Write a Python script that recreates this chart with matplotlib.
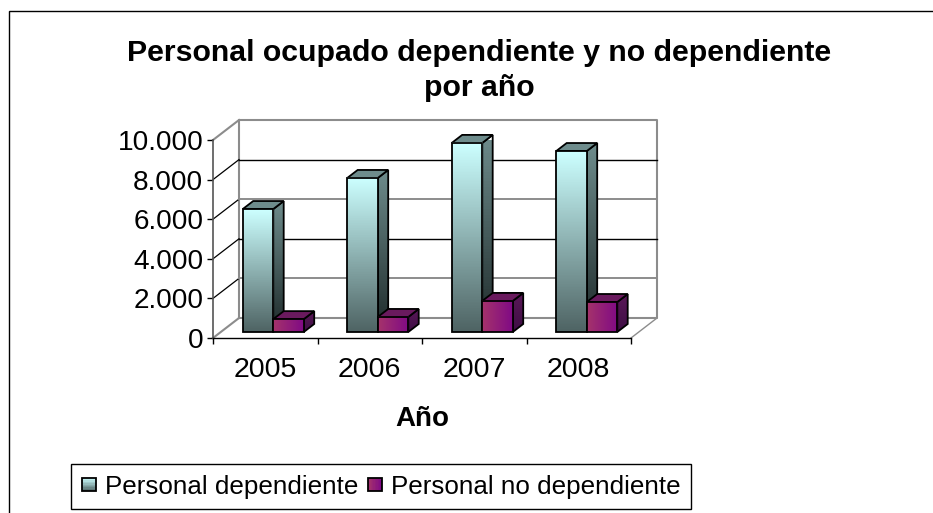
import matplotlib
matplotlib.use("Agg")
import matplotlib.pyplot as plt
from matplotlib.colors import LinearSegmentedColormap
from matplotlib.legend_handler import HandlerBase
from matplotlib.patches import Patch, Polygon, Rectangle
import numpy as np

years = ["2005", "2006", "2007", "2008"]
dependiente = [6210, 7780, 9550, 9140]
no_dependiente = [650, 760, 1570, 1515]
series_names = ["Personal dependiente", "Personal no dependiente"]
y_ticks = [0, 2000, 4000, 6000, 8000, 10000]
y_tick_labels = ["0", "2.000", "4.000", "6.000", "8.000", "10.000"]

W, H = 933, 513
LEFT, RIGHT, BOTTOM, TOP = 213, 631, 338, 140
DX = 26 / ((RIGHT - LEFT) / 4)
DY = 20 / ((BOTTOM - TOP) / 10000)

plt.rcParams["font.family"] = ["Liberation Sans", "DejaVu Sans"]

dep_cmap = LinearSegmentedColormap.from_list("dep", ["#CCFFFF", "#4F6464"])
dep_side = LinearSegmentedColormap.from_list("dep_side", ["#6E8C8C", "#1E2A2A"])
nodep_cmap = LinearSegmentedColormap.from_list("nodep", ["#A5336B", "#800A85"])
nodep_side = LinearSegmentedColormap.from_list("nodep_side", ["#5A1858", "#3E0E44"])
GRID_GRAY = "#8C8C8C"


def gradient(ax, x0, x1, y0, y1, cmap, horizontal=False, zorder=3):
    vals = np.linspace(0, 1, 64)
    vals = vals.reshape(1, -1) if horizontal else vals.reshape(-1, 1)
    ax.imshow(vals, extent=(x0, x1, y0, y1), origin="upper", aspect="auto",
              cmap=cmap, zorder=zorder, clip_on=False)


def bar3d(ax, x, value, width, cmap, side_cmap, top_color, horizontal, zorder):
    # front face sits a bit behind the axis plane, depth is about 0.4 of the wall
    x0 = x + 0.3 * DX
    y0 = 0.3 * DY
    ddx, ddy = 0.4 * DX, 0.4 * DY
    x1, y1 = x0 + width, y0 + value

    side = Polygon([(x1, y0), (x1 + ddx, y0 + ddy), (x1 + ddx, y1 + ddy), (x1, y1)],
                   closed=True, fc="none", ec="none", zorder=zorder)
    ax.add_patch(side)
    vals = np.linspace(0, 1, 64).reshape(-1, 1)
    im = ax.imshow(vals, extent=(x1, x1 + ddx, y0, y1 + ddy), origin="upper", aspect="auto",
                   cmap=side_cmap, zorder=zorder)
    im.set_clip_path(side)
    ax.add_patch(Polygon([(x1, y0), (x1 + ddx, y0 + ddy), (x1 + ddx, y1 + ddy), (x1, y1)],
                         closed=True, fc="none", ec="black", lw=1.3, zorder=zorder + 0.1,
                         clip_on=False))
    ax.add_patch(Polygon([(x0, y1), (x0 + ddx, y1 + ddy), (x1 + ddx, y1 + ddy), (x1, y1)],
                         closed=True, fc=top_color, ec="black", lw=1.3, zorder=zorder + 0.1,
                         clip_on=False))
    gradient(ax, x0, x1, y0, y1, cmap, horizontal, zorder + 0.2)
    ax.add_patch(Rectangle((x0, y0), width, value, fc="none", ec="black", lw=1.3,
                           zorder=zorder + 0.3, clip_on=False))


class GradientHandler(HandlerBase):
    def __init__(self, cmap, horizontal):
        super().__init__()
        self.cmap = cmap
        self.horizontal = horizontal

    def create_artists(self, legend, orig_handle, xdescent, ydescent, width, height, fontsize, trans):
        size = 10
        x0 = (width - size) / 2 - xdescent - 1.5
        y0 = (height - size) / 2 - ydescent
        out = []
        n = 10
        for i in range(n):
            if self.horizontal:
                r = Rectangle((x0 + size * i / n, y0), size / n, size, fc=self.cmap(i / (n - 1)),
                              ec="none", transform=trans)
            else:
                r = Rectangle((x0, y0 + size - size * (i + 1) / n), size, size / n,
                              fc=self.cmap(i / (n - 1)), ec="none", transform=trans)
            out.append(r)
        out.append(Rectangle((x0, y0), size, size, fc="none", ec="black", lw=1.3, transform=trans))
        return out


fig = plt.figure(figsize=(W / 100, H / 100), dpi=100, facecolor="white")

# outer chart frame, its right and bottom edges run off the picture
fig.add_artist(Rectangle((9 / W, -0.02), 1.0, 1.02 - 10.5 / H, transform=fig.transFigure,
                         fc="none", ec="black", lw=1.0))

ax = fig.add_axes([LEFT / W, 1 - BOTTOM / H, (RIGHT - LEFT) / W, (BOTTOM - TOP) / H])
ax.patch.set_visible(False)

for name in ["top", "right"]:
    ax.spines[name].set_visible(False)
ax.spines["left"].set_color("#555555")
ax.spines["left"].set_linewidth(1.2)
ax.spines["bottom"].set_color("black")
ax.spines["bottom"].set_linewidth(1.0)

# back wall and floor
ax.plot([DX, DX, 4 + DX, 4 + DX, DX], [DY, 10000 + DY, 10000 + DY, DY, DY],
        color=GRID_GRAY, lw=1.5, clip_on=False, zorder=1)
ax.plot([4, 4 + DX], [0, DY], color=GRID_GRAY, lw=1.0, clip_on=False, zorder=1)
ax.plot([0, DX], [0, DY], color=GRID_GRAY, lw=1.5, clip_on=False, zorder=1)
for i, v in enumerate(y_ticks[1:-1]):
    ax.plot([0, DX], [v, v + DY], color="black", lw=0.9, clip_on=False, zorder=1)
    ax.plot([DX, 4 + DX], [v + DY, v + DY], color="black" if i % 2 else GRID_GRAY,
            lw=1.0 if i % 2 else 1.4, clip_on=False, zorder=1)
ax.plot([0, DX], [10000, 10000 + DY], color=GRID_GRAY, lw=1.5, clip_on=False, zorder=1)

width = 0.292
for i in range(len(years)):
    start = i + 0.215 - 0.3 * DX + 0.07
    bar3d(ax, start, dependiente[i], width, dep_cmap, dep_side, "#6E8C8C", False, 3)
    bar3d(ax, start + width, no_dependiente[i], width, nodep_cmap, nodep_side, "#6A1A5E", True, 4)

ax.set_xlim(0, 4)
ax.set_ylim(0, 10000)
ax.set_xticks(range(5))
ax.set_xticklabels([])
ax.set_xticks(np.arange(4) + 0.5, labels=years, minor=True)
ax.tick_params(axis="x", which="major", length=4, width=1.0, direction="out", color="black")
ax.tick_params(axis="x", which="minor", length=0, labelsize=20.5, pad=13.5, labelcolor="black")
ax.set_yticks(y_ticks, labels=y_tick_labels)
ax.tick_params(axis="y", length=4, width=1.0, labelsize=20.2, pad=3)

ax.set_xlabel("Año", fontsize=20, fontweight="bold", labelpad=17)
fig.text(0.514, 1 - 53 / H, "Personal ocupado dependiente y no dependiente", ha="center", va="center",
         fontsize=21.8, fontweight="bold")
fig.text(0.514, 1 - 88 / H, "por año", ha="center", va="center", fontsize=21.8, fontweight="bold")

handles = [Patch(label=series_names[0]), Patch(label=series_names[1])]
leg = fig.legend(handles=handles, loc="lower left", bbox_to_anchor=(71 / W, 1 - 509 / H),
                 bbox_transform=fig.transFigure, ncol=2, fontsize=18.7, frameon=True, fancybox=False,
                 edgecolor="black", framealpha=1, borderaxespad=0, columnspacing=0.35, handletextpad=0.15,
                 handlelength=0.75, borderpad=0.4,
                 handler_map={handles[0]: GradientHandler(dep_cmap, False),
                              handles[1]: GradientHandler(nodep_cmap, True)})
leg.get_frame().set_linewidth(1.0)

fig.savefig("out.png", dpi=100)
